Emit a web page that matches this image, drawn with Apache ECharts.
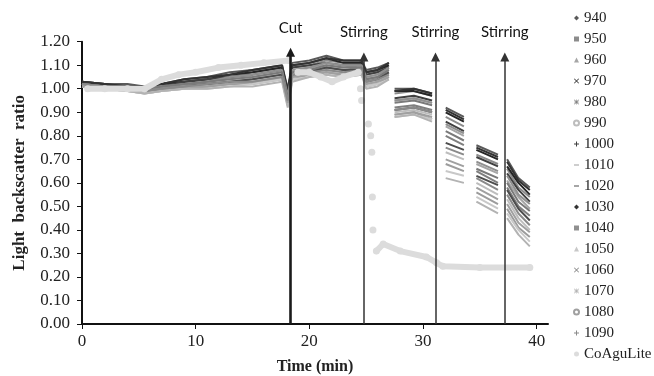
<!DOCTYPE html>
<html><head><meta charset="utf-8">
<script src="https://cdn.jsdelivr.net/npm/echarts@6/dist/echarts.min.js"></script>
<style>html,body{margin:0;padding:0;background:#fff}#c{width:654px;height:376px}</style>
</head><body><div id="c"></div>
<script>
// Shared sampling times (min) for the wavelength series; null values mark gaps
const times = [0,2,4,5.5,7,9,11,13,15,17.6,18.1,18.5,20,21.5,23,24.6,25.0,26.0,27.0,27.2,27.5,29.2,30.8,31.4,32.0,33.6,34.1,34.7,36.6,37.0,37.4,38.4,39.4];

const s940  = [1.03,1.02,1.02,1.01,1.02,1.04,1.05,1.07,1.08,1.10,1.00,1.11,1.12,1.14,1.12,1.12,1.08,1.09,1.11,null,1.00,1.00,0.98,null,0.92,0.88,null,0.76,0.72,null,0.70,0.62,0.58];
const s950  = [1.03,1.02,1.01,1.00,1.01,1.03,1.04,1.05,1.07,1.09,0.98,1.09,1.10,1.12,1.11,1.11,1.06,1.07,1.10,null,0.98,0.99,0.97,null,0.88,0.84,null,0.72,0.68,null,0.66,0.58,0.54];
const s960  = [1.02,1.01,1.00,1.00,1.01,1.02,1.03,1.04,1.05,1.07,0.97,1.08,1.09,1.10,1.09,1.10,1.05,1.06,1.08,null,0.95,0.96,0.94,null,0.84,0.80,null,0.68,0.64,null,0.61,0.54,0.49];
const s970  = [1.03,1.02,1.01,1.01,1.02,1.03,1.04,1.06,1.07,1.09,0.99,1.10,1.11,1.13,1.11,1.11,1.07,1.08,1.10,null,0.99,0.99,0.97,null,0.90,0.86,null,0.74,0.70,null,0.67,0.60,0.55];
const s980  = [1.02,1.01,1.00,0.99,1.00,1.02,1.02,1.03,1.04,1.06,0.96,1.07,1.08,1.09,1.08,1.09,1.04,1.05,1.07,null,0.92,0.93,0.91,null,0.80,0.76,null,0.65,0.60,null,0.58,0.50,0.46];
const s990  = [1.02,1.01,1.00,0.99,1.00,1.01,1.01,1.02,1.03,1.05,0.94,1.05,1.07,1.08,1.07,1.08,1.02,1.03,1.06,null,0.90,0.91,0.89,null,0.73,0.70,null,0.60,0.55,null,0.53,0.45,0.40];
const s1000 = [1.02,1.01,1.01,1.00,1.01,1.03,1.04,1.05,1.06,1.08,0.98,1.09,1.10,1.11,1.10,1.10,1.06,1.07,1.09,null,0.96,0.97,0.95,null,0.86,0.82,null,0.71,0.67,null,0.64,0.57,0.52];
const s1010 = [1.01,1.00,0.99,0.98,0.99,1.00,1.01,1.02,1.02,1.04,0.93,1.04,1.06,1.07,1.06,1.07,1.01,1.02,1.05,null,0.89,0.90,0.87,null,0.68,0.65,null,0.56,0.51,null,0.49,0.41,0.37];
const s1020 = [1.02,1.01,1.00,0.99,1.00,1.01,1.02,1.03,1.04,1.06,0.95,1.06,1.07,1.09,1.08,1.08,1.03,1.04,1.07,null,0.91,0.92,0.90,null,0.77,0.74,null,0.63,0.59,null,0.57,0.49,0.44];
const s1030 = [1.03,1.02,1.01,1.01,1.02,1.04,1.05,1.06,1.08,1.10,0.99,1.10,1.11,1.13,1.12,1.12,1.07,1.08,1.11,null,0.99,1.00,0.98,null,0.91,0.87,null,0.75,0.71,null,0.69,0.61,0.57];
const s1040 = [1.02,1.01,1.01,1.00,1.01,1.02,1.03,1.05,1.06,1.08,0.97,1.08,1.09,1.11,1.10,1.10,1.05,1.06,1.09,null,0.95,0.96,0.94,null,0.85,0.81,null,0.69,0.65,null,0.63,0.55,0.51];
const s1050 = [1.01,1.00,0.99,0.98,0.99,1.00,1.00,1.01,1.02,1.04,0.93,1.04,1.05,1.06,1.05,1.06,1.01,1.02,1.04,null,0.88,0.89,0.87,null,0.65,0.63,null,0.54,0.49,null,0.47,0.40,0.35];
const s1060 = [1.02,1.01,1.00,1.00,1.01,1.02,1.03,1.04,1.05,1.07,0.96,1.07,1.08,1.10,1.09,1.09,1.04,1.05,1.08,null,0.94,0.95,0.93,null,0.82,0.78,null,0.66,0.62,null,0.60,0.52,0.48];
const s1070 = [1.01,1.00,0.99,0.98,0.99,1.00,1.00,1.01,1.01,1.03,0.92,1.03,1.05,1.06,1.05,1.06,1.00,1.01,1.04,null,0.88,0.89,0.86,null,0.62,0.60,null,0.52,0.47,null,0.45,0.38,0.33];
const s1080 = [1.01,1.00,0.99,0.99,1.00,1.01,1.01,1.02,1.03,1.05,0.94,1.05,1.06,1.07,1.06,1.07,1.02,1.03,1.05,null,0.89,0.90,0.88,null,0.70,0.67,null,0.58,0.53,null,0.51,0.43,0.39];
const s1090 = [1.02,1.01,1.00,0.99,1.00,1.01,1.02,1.03,1.03,1.05,0.95,1.06,1.07,1.08,1.07,1.08,1.03,1.04,1.06,null,0.91,0.92,0.90,null,0.75,0.72,null,0.62,0.57,null,0.55,0.47,0.42];

// CoAguLite sensor
const coaguTimes  = [0.5,2,4,5.5,7,8.5,10,12,14,16,18.2,18.7,19,20,21,22,23,24.3,24.4,24.5,24.55,24.6,24.8,25.2,25.3,25.4,25.45,25.5,25.52,25.55,25.57,25.6,25.7,25.9,26.5,28,30.3,31.2,31.75,35,39.4];
const coaguValues = [1.00,1.00,1.00,1.00,1.04,1.06,1.07,1.09,1.10,1.11,1.12,null,1.07,1.07,1.05,1.03,1.05,1.07,null,1.00,null,0.95,null,0.85,null,0.80,null,0.73,null,0.54,null,0.40,null,0.31,0.34,0.31,0.285,0.26,0.245,0.24,0.24];

// Event arrows
const eventTimes  = [18.35, 24.8, 31.1, 37.2];
const eventTops   = [1.155, 1.135, 1.135, 1.135];
const eventLabels = ['Cut', 'Stirring', 'Stirring', 'Stirring'];

const xTicks = [0, 10, 20, 30, 40];

const seriesNames = ['940','950','960','970','980','990','1000','1010','1020','1030','1040','1050','1060','1070','1080','1090'];
const seriesValues = [s940,s950,s960,s970,s980,s990,s1000,s1010,s1020,s1030,s1040,s1050,s1060,s1070,s1080,s1090];
const seriesColors = ['#5a5a5a','#8c8c8c','#a6a6a6','#262626','#7f7f7f','#bdbdbd','#404040','#9c9c9c','#4d4d4d','#333333','#909090','#c8c8c8','#7a7a7a','#b3b3b3','#a0a0a0','#8a8a8a'];
const X_PATH = 'path://M0,1L1,0L5,4L9,0L10,1L6,5L10,9L9,10L5,6L1,10L0,9L4,5Z';
const PLUS_PATH = 'path://M4,0H6V4H10V6H6V10H4V6H0V4H4Z';
const STAR_PATH = 'path://M0,4.4H10V5.6H0Z M4.4,0H5.6V10H4.4Z M1,0L10,9L9,10L0,1Z M9,0L10,1L1,10L0,9Z';
const DASH_PATH = 'path://M0,4H10V6H0Z';
const seriesIcons = ['diamond','rect','triangle',X_PATH,STAR_PATH,'emptyCircle',PLUS_PATH,DASH_PATH,DASH_PATH,'diamond','rect','triangle',X_PATH,STAR_PATH,'emptyCircle',PLUS_PATH];

const serif = 'Liberation Serif';
const series = seriesNames.map((n, i) => ({
  name: n, type: 'line', showSymbol: false, connectNulls: false,
  data: times.map((t, k) => [t, seriesValues[i][k]]),
  lineStyle: { width: 2, color: seriesColors[i] },
  itemStyle: { color: seriesColors[i] },
  emphasis: { disabled: true }, z: 2
}));
series.push({
  name: 'CoAguLite', type: 'line', showSymbol: true, symbol: 'circle', symbolSize: 7,
  connectNulls: false,
  data: coaguTimes.map((t, k) => [t, coaguValues[k]]),
  lineStyle: { width: 6, color: '#dcdcdc', cap: 'round', join: 'round' },
  itemStyle: { color: '#dcdcdc' },
  emphasis: { disabled: true }, z: 3
});
series.push({
  name: 'events', type: 'line', data: [], z: 5,
  markLine: {
    silent: true, animation: false,
    symbol: ['none', 'triangle'], symbolSize: 9,
    data: eventTimes.map((t, i) => [
      { coord: [t, 0],
        lineStyle: { color: i === 0 ? '#1a1a1a' : '#333', width: i === 0 ? 2.6 : 1.5, type: 'solid' },
        label: { show: true, position: 'end', distance: 17, formatter: eventLabels[i],
                 fontFamily: 'Lato', fontSize: 15, color: '#111' } },
      { coord: [t, eventTops[i]] }
    ])
  }
});

const chart = echarts.init(document.getElementById('c'), null, { renderer: 'canvas' });
chart.setOption({
  animation: false,
  backgroundColor: '#fff',
  grid: { left: 82, right: 106, top: 41.7, bottom: 52, containLabel: false, outerBoundsMode: 'none' },
  xAxis: {
    type: 'value', min: 0, max: 41, interval: 10,
    name: 'Time (min)', nameLocation: 'middle', nameGap: 35,
    nameTextStyle: { fontFamily: serif, fontWeight: 'bold', fontSize: 16, color: '#222' },
    axisLine: { show: true, onZero: false, lineStyle: { color: '#111', width: 2 } },
    axisTick: { show: true, length: 5, customValues: xTicks, lineStyle: { color: '#111', width: 1 } },
    axisLabel: { customValues: xTicks, fontFamily: serif, fontSize: 17, color: '#222', margin: 9 },
    splitLine: { show: false }
  },
  yAxis: {
    type: 'value', min: 0, max: 1.2, interval: 0.1,
    name: 'Light  backscatter  ratio', nameLocation: 'middle', nameGap: 54,
    nameTextStyle: { fontFamily: serif, fontWeight: 'bold', fontSize: 17, color: '#222' },
    axisLine: { show: true, lineStyle: { color: '#111', width: 2 } },
    axisTick: { show: true, length: 5, lineStyle: { color: '#111', width: 1 } },
    axisLabel: { fontFamily: serif, fontSize: 17, color: '#222', margin: 12,
                 formatter: v => v.toFixed(2) },
    splitLine: { show: false }
  },
  legend: {
    orient: 'vertical', left: 568, top: 5,
    itemWidth: 5, itemHeight: 5, itemGap: 5,
    selectedMode: false,
    textStyle: { fontFamily: serif, fontSize: 15, color: '#222', lineHeight: 16 },
    data: seriesNames.map((n, i) => ({ name: n, icon: seriesIcons[i] }))
      .concat([{ name: 'CoAguLite', icon: 'circle' }])
  },
  series: series
});
</script>
</body></html>
